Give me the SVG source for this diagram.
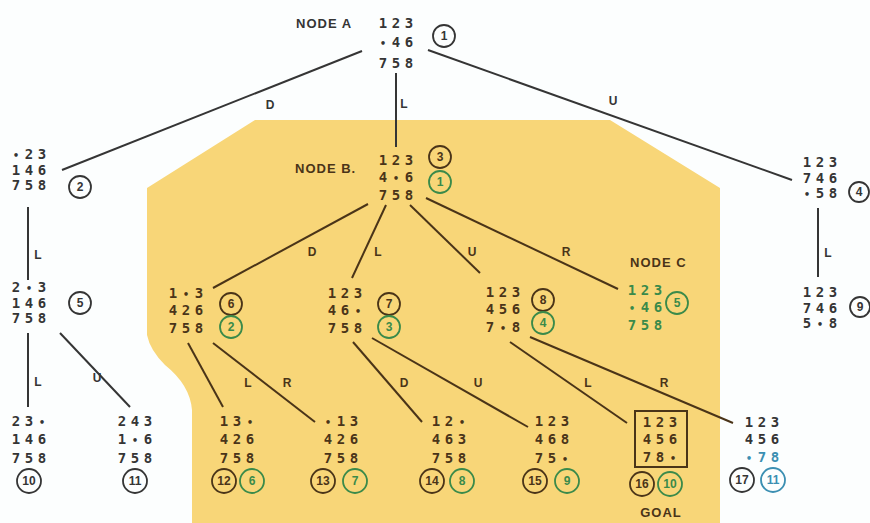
<svg xmlns="http://www.w3.org/2000/svg" width="870" height="523" viewBox="0 0 870 523">
<style>
.t{font-family:"DejaVu Sans Mono","Liberation Mono",monospace;font-weight:bold;font-size:14px;text-anchor:middle}
.d{font-size:10px}
.w{fill:#353535}.y{fill:#4a3418}.g{fill:#3a8a4a}.b{fill:#3b8fb2}
.lab{font-family:"Liberation Sans",Arial,sans-serif;font-weight:bold;font-size:12px;text-anchor:middle}
.nd{font-family:"Liberation Sans",Arial,sans-serif;font-weight:bold;font-size:13px;letter-spacing:1px}
.cw{fill:none;stroke:#353535;stroke-width:1.8}.cy{fill:none;stroke:#4a3418;stroke-width:1.8}
.cg{fill:none;stroke:#3a8a4a;stroke-width:1.8}.cb{fill:none;stroke:#3b8fb2;stroke-width:1.8}
.n{font-family:"Liberation Sans",Arial,sans-serif;font-weight:bold;font-size:12px;text-anchor:middle}
.n2{font-family:"Liberation Sans Narrow","Liberation Sans",Arial,sans-serif;font-weight:bold;font-size:12px;text-anchor:middle}
.ew{stroke:#353535;stroke-width:2;fill:none}.ey{stroke:#4a3418;stroke-width:2;fill:none}
</style>
<rect width="870" height="523" fill="#fcfefe"/>
<path d="M255,120 L610,120 L720,188 L720,523 L192,523 L192,410 Q190,385 165,365 Q150,350 147,335 L147,188 Z" fill="#f8d678"/>

<g id="connectors">
<line class="ew" x1="362" y1="51" x2="62" y2="170"/>
<line class="ew" x1="396" y1="73" x2="396" y2="147"/>
<line class="ew" x1="428" y1="50" x2="792" y2="180"/>
<line class="ew" x1="28" y1="207" x2="28" y2="280"/>
<line class="ew" x1="28" y1="333" x2="28" y2="407"/>
<line class="ew" x1="60" y1="333" x2="130" y2="407"/>
<line class="ew" x1="818" y1="208" x2="818" y2="277"/>
<line class="ey" x1="368" y1="204" x2="213" y2="288"/>
<line class="ey" x1="386" y1="205" x2="352" y2="278"/>
<line class="ey" x1="410" y1="205" x2="480" y2="273"/>
<line class="ey" x1="426" y1="198" x2="618" y2="289"/>
<line class="ey" x1="188" y1="343" x2="223" y2="407"/>
<line class="ey" x1="213" y1="343" x2="315" y2="422"/>
<line class="ey" x1="353" y1="342" x2="422" y2="422"/>
<line class="ey" x1="372" y1="338" x2="528" y2="427"/>
<line class="ey" x1="510" y1="342" x2="627" y2="423"/>
<line class="ey" x1="530" y1="337" x2="733" y2="423"/>
<text class="lab w" x="270" y="109">D</text>
<text class="lab w" x="404" y="108">L</text>
<text class="lab w" x="613" y="105">U</text>
<text class="lab w" x="38" y="259">L</text>
<text class="lab w" x="38" y="386">L</text>
<text class="lab w" x="97" y="382">U</text>
<text class="lab w" x="828" y="257">L</text>
<text class="lab y" x="312" y="256">D</text>
<text class="lab y" x="378" y="256">L</text>
<text class="lab y" x="472" y="256">U</text>
<text class="lab y" x="566" y="256">R</text>
<text class="lab y" x="248" y="387">L</text>
<text class="lab y" x="287" y="387">R</text>
<text class="lab y" x="404" y="387">D</text>
<text class="lab y" x="478" y="387">U</text>
<text class="lab y" x="588" y="387">L</text>
<text class="lab y" x="664" y="387">R</text>
</g>

<g id="nodeA">
<text class="nd w" x="296" y="28">NODE A</text>
<text class="t w" x="383 396 409" y="28">123</text>
<text class="t w" x="383 396 409" y="47"><tspan class="d">•</tspan>46</text>
<text class="t w" x="383 396 409" y="68">758</text>
<circle class="cw" cx="444" cy="36" r="11"/><text class="n w" x="444" y="40">1</text>
</g>

<g id="node2">
<text class="t w" x="16 29 42" y="159"><tspan class="d">•</tspan>23</text>
<text class="t w" x="16 29 42" y="175">146</text>
<text class="t w" x="16 29 42" y="190">758</text>
<circle class="cw" cx="80" cy="187" r="11"/><text class="n w" x="80" y="191">2</text>
</g>

<g id="node5">
<text class="t w" x="16 29 42" y="292">2<tspan class="d">•</tspan>3</text>
<text class="t w" x="16 29 42" y="308">146</text>
<text class="t w" x="16 29 42" y="323">758</text>
<circle class="cw" cx="80" cy="303" r="11"/><text class="n w" x="80" y="307">5</text>
</g>

<g id="node4">
<text class="t w" x="807 820 833" y="167">123</text>
<text class="t w" x="807 820 833" y="183">746</text>
<text class="t w" x="807 820 833" y="198"><tspan class="d">•</tspan>58</text>
<circle class="cw" cx="859" cy="192" r="10"/><text class="n w" x="859" y="196">4</text>
</g>

<g id="node9">
<text class="t w" x="807 820 833" y="297">123</text>
<text class="t w" x="807 820 833" y="313">746</text>
<text class="t w" x="807 820 833" y="328">5<tspan class="d">•</tspan>8</text>
<circle class="cw" cx="860" cy="307" r="10"/><text class="n w" x="860" y="311">9</text>
</g>

<g id="nodeB">
<text class="nd y" x="295" y="173">NODE B.</text>
<text class="t y" x="383 396 409" y="165">123</text>
<text class="t y" x="383 396 409" y="182">4<tspan class="d">•</tspan>6</text>
<text class="t y" x="383 396 409" y="200">758</text>
<circle class="cy" cx="440" cy="157" r="11"/><text class="n y" x="440" y="161">3</text>
<circle class="cg" cx="440" cy="182" r="11"/><text class="n g" x="440" y="186">1</text>
</g>

<g id="node6">
<text class="t y" x="173 186 199" y="298">1<tspan class="d">•</tspan>3</text>
<text class="t y" x="173 186 199" y="315">426</text>
<text class="t y" x="173 186 199" y="333">758</text>
<circle class="cy" cx="231" cy="304" r="11"/><text class="n y" x="231" y="308">6</text>
<circle class="cg" cx="231" cy="327" r="11"/><text class="n g" x="231" y="331">2</text>
</g>

<g id="node7">
<text class="t y" x="332 345 358" y="298">123</text>
<text class="t y" x="332 345 358" y="315">46<tspan class="d">•</tspan></text>
<text class="t y" x="332 345 358" y="333">758</text>
<circle class="cy" cx="389" cy="304" r="11"/><text class="n y" x="389" y="308">7</text>
<circle class="cg" cx="389" cy="327" r="11"/><text class="n g" x="389" y="331">3</text>
</g>

<g id="node8">
<text class="t y" x="490 503 516" y="297">123</text>
<text class="t y" x="490 503 516" y="314">456</text>
<text class="t y" x="490 503 516" y="332">7<tspan class="d">•</tspan>8</text>
<circle class="cy" cx="543" cy="300" r="11"/><text class="n y" x="543" y="304">8</text>
<circle class="cg" cx="543" cy="323" r="11"/><text class="n g" x="543" y="327">4</text>
</g>

<g id="nodeC">
<text class="nd y" x="630" y="267">NODE C</text>
<text class="t g" x="632 645 658" y="295">123</text>
<text class="t g" x="632 645 658" y="312"><tspan class="d">•</tspan>46</text>
<text class="t g" x="632 645 658" y="330">758</text>
<circle class="cg" cx="677" cy="303" r="11"/><text class="n g" x="677" y="307">5</text>
</g>

<g id="node10">
<text class="t w" x="16 29 42" y="426">23<tspan class="d">•</tspan></text>
<text class="t w" x="16 29 42" y="444">146</text>
<text class="t w" x="16 29 42" y="463">758</text>
<circle class="cw" cx="29" cy="481" r="12"/><text class="n2 w" x="29" y="485">10</text>
</g>

<g id="node11">
<text class="t w" x="122 135 148" y="426">243</text>
<text class="t w" x="122 135 148" y="444">1<tspan class="d">•</tspan>6</text>
<text class="t w" x="122 135 148" y="463">758</text>
<circle class="cw" cx="135" cy="481" r="12"/><text class="n2 w" x="135" y="485">11</text>
</g>

<g id="node12">
<text class="t y" x="224 237 250" y="426">13<tspan class="d">•</tspan></text>
<text class="t y" x="224 237 250" y="444">426</text>
<text class="t y" x="224 237 250" y="463">758</text>
<circle class="cy" cx="224" cy="481" r="12"/><text class="n2 y" x="224" y="485">12</text>
<circle class="cg" cx="252" cy="481" r="12"/><text class="n g" x="252" y="485">6</text>
</g>

<g id="node13">
<text class="t y" x="328 341 354" y="426"><tspan class="d">•</tspan>13</text>
<text class="t y" x="328 341 354" y="444">426</text>
<text class="t y" x="328 341 354" y="463">758</text>
<circle class="cy" cx="323" cy="481" r="12"/><text class="n2 y" x="323" y="485">13</text>
<circle class="cg" cx="355" cy="481" r="12"/><text class="n g" x="355" y="485">7</text>
</g>

<g id="node14">
<text class="t y" x="436 449 462" y="426">12<tspan class="d">•</tspan></text>
<text class="t y" x="436 449 462" y="444">463</text>
<text class="t y" x="436 449 462" y="463">758</text>
<circle class="cy" cx="432" cy="481" r="12"/><text class="n2 y" x="432" y="485">14</text>
<circle class="cg" cx="462" cy="481" r="12"/><text class="n g" x="462" y="485">8</text>
</g>

<g id="node15">
<text class="t y" x="539 552 565" y="426">123</text>
<text class="t y" x="539 552 565" y="444">468</text>
<text class="t y" x="539 552 565" y="463">75<tspan class="d">•</tspan></text>
<circle class="cy" cx="535" cy="481" r="12"/><text class="n2 y" x="535" y="485">15</text>
<circle class="cg" cx="567" cy="481" r="12"/><text class="n g" x="567" y="485">9</text>
</g>

<g id="node16">
<rect x="635" y="411" width="52" height="56" fill="none" stroke="#4a3418" stroke-width="2"/>
<text class="t y" x="647 660 673" y="427">123</text>
<text class="t y" x="647 660 673" y="444">456</text>
<text class="t y" x="647 660 673" y="462">78<tspan class="d">•</tspan></text>
<circle class="cy" cx="642" cy="484" r="12"/><text class="n2 y" x="642" y="488">16</text>
<circle class="cg" cx="670" cy="484" r="12"/><text class="n2 g" x="670" y="488">10</text>
<text class="nd y" x="661" y="517" text-anchor="middle">GOAL</text>
</g>

<g id="node17">
<text class="t w" x="749 762 775" y="427">123</text>
<text class="t w" x="749 762 775" y="444">456</text>
<text class="t b" x="749 762 775" y="462"><tspan class="d">•</tspan>78</text>
<circle class="cw" cx="742" cy="480" r="12"/><text class="n2 w" x="742" y="484">17</text>
<circle class="cb" cx="773" cy="480" r="12"/><text class="n2 b" x="773" y="484">11</text>
</g>
</svg>
